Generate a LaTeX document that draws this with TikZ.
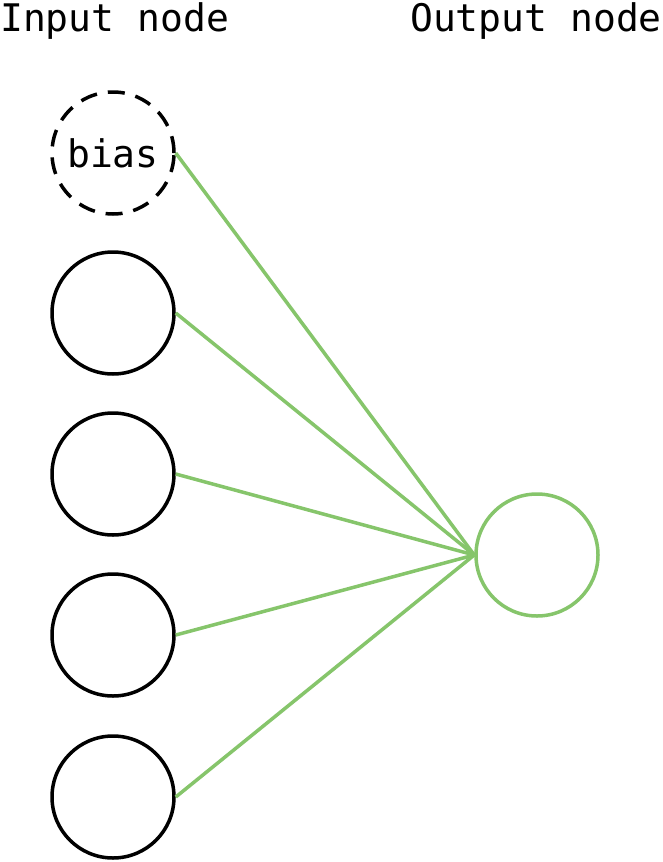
\documentclass[tikz,border=0pt]{standalone}
\usepackage{fontspec}
\setmonofont{DejaVu Sans Mono}
\usetikzlibrary{positioning}
\definecolor{edgeGreen}{RGB}{134, 197, 107}

\begin{document}
\begin{tikzpicture}[x=1pt, y=1pt, font=\fontsize{38}{41}\selectfont\ttfamily,
  neuron/.style={circle, draw=black, line width=3.5pt, minimum size=122pt, inner sep=0pt},
  link/.style={draw=edgeGreen, line width=3.5pt}]
  \useasboundingbox (0,0) rectangle (662,-862);

  % Headings
  \node[anchor=base west, inner sep=0pt] (hin) at (0,-31) {Input node};
  \node[anchor=base east, inner sep=0pt] (hout) at (662,-31) {Output node};

  % Input layer
  \node[neuron, dash pattern=on 17pt off 11pt] (in0) at (113,-153) {bias};
  \foreach \i/\yy in {1/-313, 2/-474, 3/-635, 4/-797}
    \node[neuron] (in\i) at (113,\yy) {};

  % Output layer
  \node[neuron, draw=edgeGreen] (out) at (537,-555) {};

  \foreach \i in {0,...,4}
    \draw[link] (in\i.east) -- (out.west);
\end{tikzpicture}
\end{document}
